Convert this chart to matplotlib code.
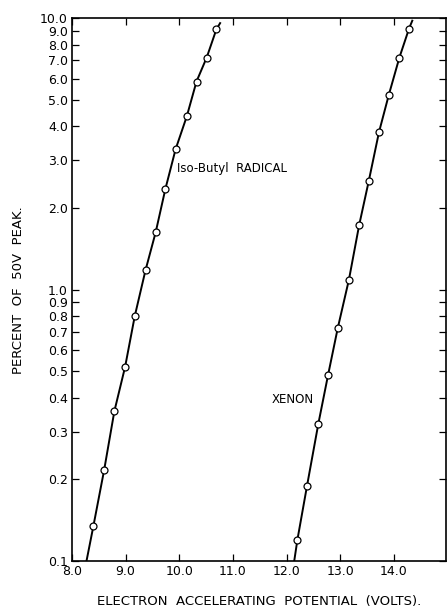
import matplotlib
matplotlib.use("Agg")
import matplotlib.pyplot as plt
from matplotlib.ticker import FixedLocator, FixedFormatter, NullLocator

# data
butyl_v = [8.40, 8.60, 8.79, 8.99, 9.17, 9.37, 9.56, 9.74, 9.93, 10.14, 10.32, 10.51, 10.69]
butyl_pct = [0.135, 0.217, 0.357, 0.52, 0.80, 1.18, 1.63, 2.35, 3.29, 4.36, 5.85, 7.17, 9.1]
xenon_v = [12.20, 12.38, 12.59, 12.77, 12.95, 13.16, 13.35, 13.53, 13.72, 13.90, 14.10, 14.28]
xenon_pct = [0.12, 0.19, 0.321, 0.484, 0.72, 1.09, 1.73, 2.52, 3.81, 5.2, 7.17, 9.17]

# hand-drawn curves (extend a little past the end points)
butyl_line_v = [8.27] + butyl_v + [10.76]
butyl_line_pct = [0.1] + butyl_pct + [9.6]
xenon_line_v = [12.14] + xenon_v + [14.34]
xenon_line_pct = [0.1] + xenon_pct + [9.8]

yticks = [0.1, 0.2, 0.3, 0.4, 0.5, 0.6, 0.7, 0.8, 0.9, 1.0,
          2.0, 3.0, 4.0, 5.0, 6.0, 7.0, 8.0, 9.0, 10.0]
ylabels = ["%.1f" % v for v in yticks]
xticks = [8.0, 9.0, 10.0, 11.0, 12.0, 13.0, 14.0]
xlabels = ["8.0", "9.0", "10.0", "11.0", "12.0", "13.0", "14.0"]

fig = plt.figure(figsize=(4.47, 6.10), dpi=100)
ax = fig.add_axes([0.161, 0.080, 0.837, 0.890])

for lv, lp, v, p in [(butyl_line_v, butyl_line_pct, butyl_v, butyl_pct),
                     (xenon_line_v, xenon_line_pct, xenon_v, xenon_pct)]:
    ax.plot(lv, lp, color="black", lw=1.4, zorder=2)
    ax.plot(v, p, "o", ms=5, mfc="white", mec="black", mew=0.9, zorder=3)

ax.set_yscale("log")
ax.set_xlim(8.0, 14.97)
ax.set_ylim(0.1, 10.0)

ax.yaxis.set_major_locator(FixedLocator(yticks))
ax.yaxis.set_major_formatter(FixedFormatter(ylabels))
ax.yaxis.set_minor_locator(NullLocator())
ax.xaxis.set_major_locator(FixedLocator(xticks))
ax.xaxis.set_major_formatter(FixedFormatter(xlabels))

ax.tick_params(direction="in", length=5, width=0.9, labelsize=9,
               top=True, right=True, pad=3)
for s in ax.spines.values():
    s.set_linewidth(1.2)

ax.text(9.96, 2.8, "Iso-Butyl  RADICAL", fontsize=8.5, va="center")
ax.text(11.72, 0.395, "XENON", fontsize=8.5, va="center")

ax.set_ylabel("PERCENT  OF  50V  PEAK.", fontsize=9.5, labelpad=11)
ax.set_xlabel("ELECTRON  ACCELERATING  POTENTIAL  (VOLTS).", fontsize=9.5, labelpad=12)

fig.savefig("out.png", dpi=100)
